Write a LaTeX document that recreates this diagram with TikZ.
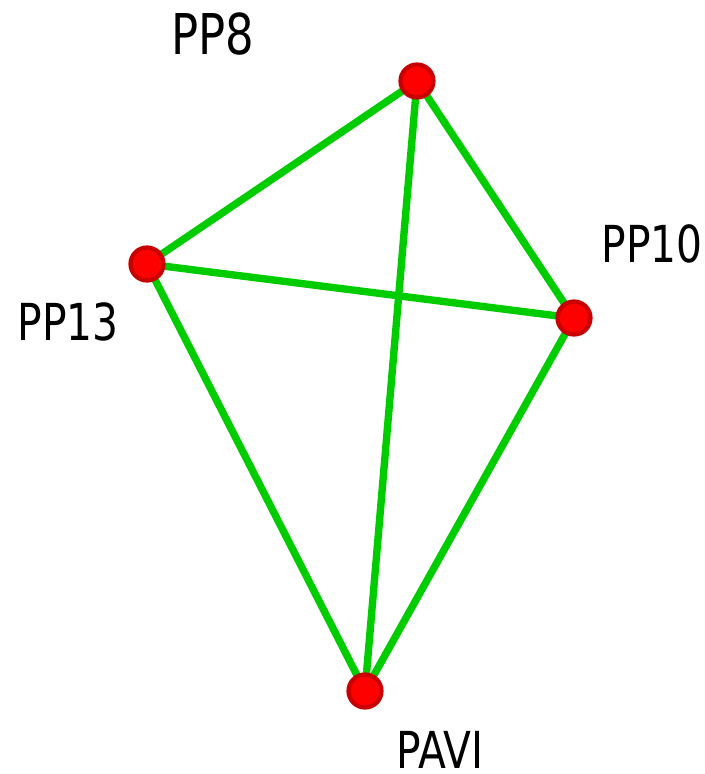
\documentclass[tikz,border=0pt]{standalone}
\usepackage{fontspec}
\setmainfont{DejaVu Sans}
\usetikzlibrary{backgrounds}

\definecolor{linkgreen}{RGB}{0,204,0}
\definecolor{darkred}{RGB}{200,0,0}

\tikzstyle{vertex} = [circle, fill=red, draw=darkred, line width=2.4pt, minimum size=0.66cm, inner sep=0pt]
\tikzstyle{lbl} = [font=\fontsize{29}{29}\selectfont, xscale=0.8, inner sep=0pt]
\tikzstyle{link} = [linkgreen, line width=4.2pt]

\begin{document}
\begin{tikzpicture}[x=0.02cm, y=-0.02cm]
\useasboundingbox (0,0) rectangle (705,774);

\node[vertex] (pp8) at (417,81) {};
\node[vertex] (pp13) at (147,264) {};
\node[vertex] (pp10) at (574,318) {};
\node[vertex] (pavi) at (365,691) {};

\node[lbl, font=\fontsize{32}{32}\selectfont] (lpp8) at (213,34) {PP8};
\node[lbl] (lpp13) at (68,322) {PP13};
\node[lbl] (lpp10) at (652,244) {PP10};
\node[lbl] (lpavi) at (440,750) {PAVI};

\begin{pgfonlayer}{background}
    \draw[link] (pp8.center) -- (pp13.center);
    \draw[link] (pp8.center) -- (pp10.center);
    \draw[link] (pp8.center) -- (pavi.center);
    \draw[link] (pp13.center) -- (pp10.center);
    \draw[link] (pp13.center) -- (pavi.center);
    \draw[link] (pp10.center) -- (pavi.center);
\end{pgfonlayer}
\end{tikzpicture}
\end{document}
